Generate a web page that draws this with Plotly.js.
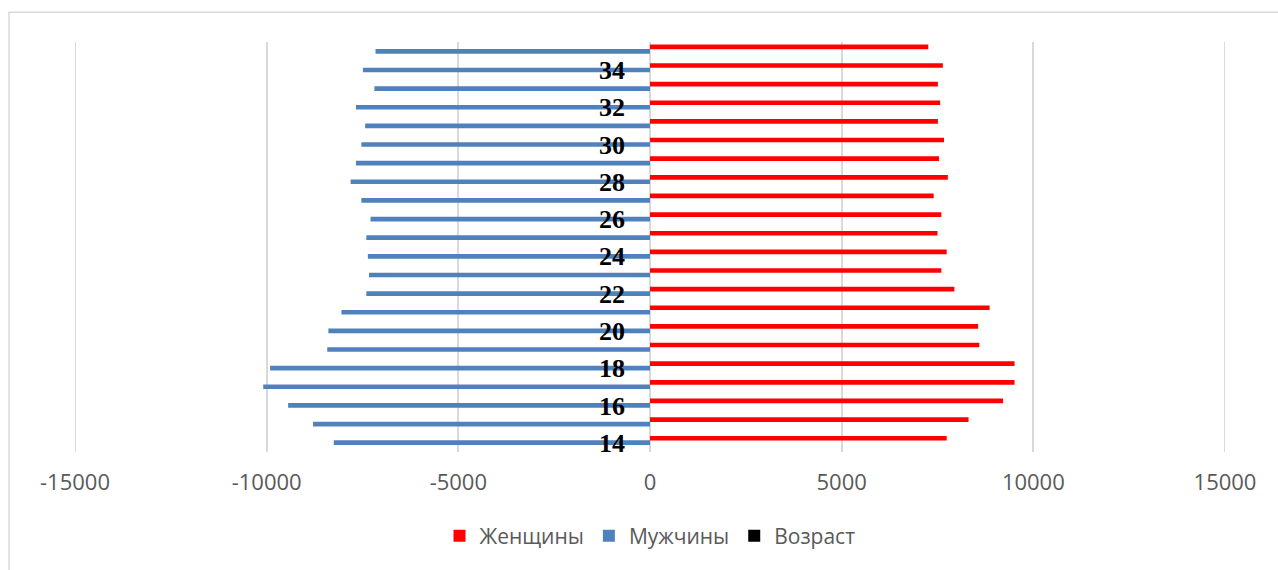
<!DOCTYPE html>
<html>
<head>
<meta charset="utf-8">
<script src="https://cdn.plot.ly/plotly-3.0.1.min.js"></script>
<style>
  html, body { margin: 0; padding: 0; background: #ffffff; }
  #chart { width: 1278px; height: 570px; }
</style>
</head>
<body>
<div id="chart"></div>
<script>
// Ages (categories), bottom to top
const ages = [14, 15, 16, 17, 18, 19, 20, 21, 22, 23, 24, 25, 26, 27, 28, 29, 30, 31, 32, 33, 34, 35];
// Women (positive side)
const women = [7740, 8310, 9210, 9510, 9510, 8590, 8560, 8860, 7940, 7600, 7740, 7500, 7600, 7400, 7770, 7540, 7670, 7510, 7570, 7510, 7640, 7260];
// Men (shown on the negative side)
const men = [-8250, -8790, -9440, -10090, -9910, -8420, -8390, -8050, -7400, -7330, -7360, -7400, -7290, -7530, -7810, -7670, -7530, -7430, -7670, -7190, -7490, -7160];
// "Возраст" series (no visible length)
const ageSeries = [0, 0, 0, 0, 0, 0, 0, 0, 0, 0, 0, 0, 0, 0, 0, 0, 0, 0, 0, 0, 0, 0];
// Tick labels
const xTickVals = [-15000, -10000, -5000, 0, 5000, 10000, 15000];
const xTickText = ['-15000', '-10000', '-5000', '0', '5000', '10000', '15000'];
const yTickVals = [14, 16, 18, 20, 22, 24, 26, 28, 30, 32, 34];

const sansFont = '"Open Sans", "Liberation Sans", sans-serif';

const traces = [
  {
    type: 'bar', orientation: 'h', name: 'Женщины',
    y: ages, x: women,
    width: 0.25, offset: 0.115,
    marker: { color: '#ff0000' },
    hoverinfo: 'x+y'
  },
  {
    type: 'bar', orientation: 'h', name: 'Мужчины',
    y: ages, x: men,
    width: 0.25, offset: -0.125,
    marker: { color: '#4f81bd' },
    hoverinfo: 'x+y'
  },
  {
    type: 'bar', orientation: 'h', name: 'Возраст',
    y: ages, x: ageSeries,
    width: 0.25, offset: -0.365,
    marker: { color: '#000000' },
    hoverinfo: 'x+y'
  }
];

// edge gridlines (Plotly omits grid lines that sit exactly on the plot edges)
const edgeGrid = [xTickVals[0], xTickVals[xTickVals.length - 1]].map(v => ({
  type: 'line', xref: 'x', yref: 'paper', x0: v, x1: v, y0: 0, y1: 1,
  line: { color: '#d9d9d9', width: 2 }, layer: 'below'
}));

const layout = {
  width: 1278, height: 570,
  margin: { l: 75, r: 53, t: 42, b: 118, pad: 0 },
  paper_bgcolor: '#ffffff', plot_bgcolor: '#ffffff',
  barmode: 'overlay',
  showlegend: true,
  legend: {
    orientation: 'h', x: 0.5, xanchor: 'center', y: -0.205, yanchor: 'middle',
    font: { family: sansFont, size: 21, color: '#595959' },
    itemwidth: 30, traceorder: 'normal'
  },
  xaxis: {
    range: [-15000, 15000],
    tickmode: 'array', tickvals: xTickVals, ticktext: xTickText,
    showgrid: true, gridcolor: '#d9d9d9', gridwidth: 2,
    zeroline: false, showline: false, ticks: '',
    ticklabelstandoff: 15,
    tickfont: { family: sansFont, size: 22, color: '#595959' },
    fixedrange: true
  },
  yaxis: {
    range: [13.5, 35.5],
    anchor: 'free', position: 0.5,
    tickmode: 'array', tickvals: yTickVals,
    showgrid: false, zeroline: false, showline: false, ticks: '',
    ticklabelstandoff: 25,
    tickfont: { family: '"Liberation Serif", "Times New Roman", serif', size: 26, color: '#000000', weight: 'bold' },
    fixedrange: true
  },
  shapes: [
    { type: 'rect', xref: 'paper', yref: 'paper',
      x0: -0.0574, x1: 1.06, y0: -0.33, y1: 1.0724,
      line: { color: '#d9d9d9', width: 1.5 }, fillcolor: 'rgba(0,0,0,0)', layer: 'below' }
  ].concat(edgeGrid)
};

Plotly.newPlot('chart', traces, layout, { displayModeBar: false, staticPlot: true });
</script>
</body>
</html>
